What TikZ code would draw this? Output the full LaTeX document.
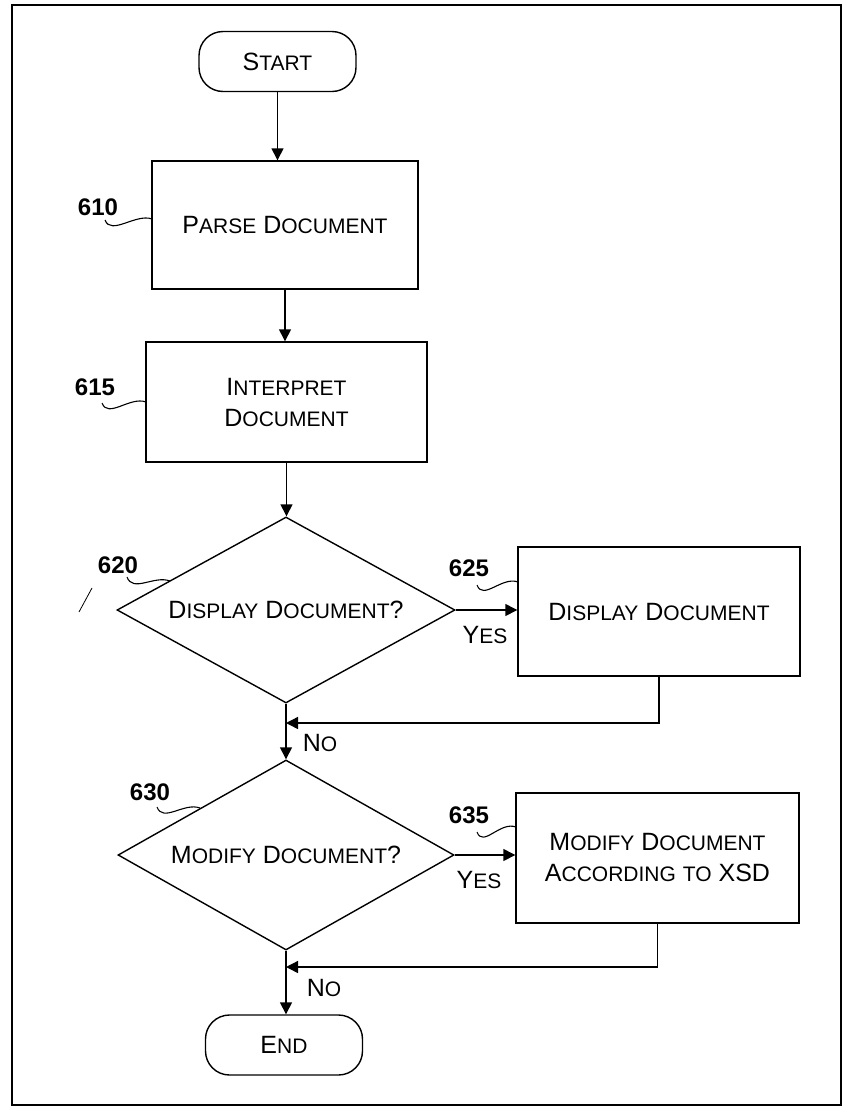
\documentclass[tikz,border=0pt]{standalone}
\usepackage{fontspec}
\setmainfont{Liberation Sans}
\usetikzlibrary{arrows.meta,shapes.geometric}
\newcommand\BigC{\fontsize{25}{31}\selectfont}
\newcommand\SmC{\fontsize{21}{31}\selectfont}
\newcommand\cw[2]{{\BigC #1}{\SmC #2}}
\begin{document}
\begin{tikzpicture}[x=1pt,y=-1pt,line width=1.4pt,
  box/.style={draw,rectangle,inner sep=0pt,align=center,font=\BigC},
  term/.style={draw,rectangle,rounded corners=24pt,inner sep=0pt,minimum width=157pt,minimum height=60pt,font=\BigC},
  dec/.style={draw,diamond,aspect=1.8,inner sep=0pt,font=\BigC},
  num/.style={font=\fontsize{24}{24}\selectfont\bfseries,inner sep=0pt},
  lbl/.style={font=\BigC,inner sep=0pt},
  arr/.style={-{Triangle[length=12pt,width=12pt]}},
  lead/.style={line width=1.1pt}]
\useasboundingbox (0,0) rectangle (843,1109);
\draw[line width=1.6pt] (12,5) rectangle (841,1105);

\node[term] (start) at (277.5,61.5) {\cw{S}{TART}};
\node[box,minimum width=266pt,minimum height=128pt] (n610) at (285,225) {\cw{P}{ARSE} \cw{D}{OCUMENT}};
\node[box,minimum width=281pt,minimum height=120pt] (n615) at (286.5,402) {\cw{I}{NTERPRET}\\\cw{D}{OCUMENT}};
\node[dec,minimum width=338pt,minimum height=186pt] (d620) at (286,610) {\cw{D}{ISPLAY} \cw{D}{OCUMENT}?};
\node[box,minimum width=282pt,minimum height=129pt] (n625) at (659,611.5) {\cw{D}{ISPLAY} \cw{D}{OCUMENT}};
\node[dec,minimum width=336pt,minimum height=190pt] (d630) at (286,855) {\cw{M}{ODIFY} \cw{D}{OCUMENT}?};
\node[box,minimum width=283pt,minimum height=130pt] (n635) at (657.5,858) {\cw{M}{ODIFY} \cw{D}{OCUMENT}\\\cw{A}{CCORDING} {\SmC TO} XSD};
\node[term] (end) at (284,1045) {\cw{E}{ND}};

\coordinate (j1) at (286,723);
\coordinate (j2) at (286,967);
\draw[arr] (start.south) -- (start.south |- n610.north);
\draw[arr] (n610.south) -- (n610.south |- n615.north);
\draw[arr] (n615.south) -- (n615.south |- d620.north);
\draw[arr] (d620.east) -- (d620.east -| n625.west);
\draw[arr] (n625.south) |- (j1);
\draw[arr] (d620.south) -- (d630.north);
\draw[arr] (d630.east) -- (d630.east -| n635.west);
\draw[arr] (n635.south) |- (j2);
\draw[arr] (d630.south) -- (d630.south |- end.north);

\node[lbl] (y1) at (485,635) {\cw{Y}{ES}};
\node[lbl] (no1) at (320,743) {\cw{N}{O}};
\node[lbl] (y2) at (479,880) {\cw{Y}{ES}};
\node[lbl] (no2) at (324,988) {\cw{N}{O}};

\node[num] (l610) at (98,207) {610};
\node[num] (l615) at (95,387) {615};
\node[num] (l620) at (118,565) {620};
\node[num] (l625) at (469,568) {625};
\node[num] (l630) at (150,792) {630};
\node[num] (l635) at (469,815) {635};

\draw[lead] (105,220) .. controls +(6,16) and +(-16,-6) .. (152,219);
\draw[lead] (102,403) .. controls +(6,16) and +(-16,-6) .. (146,402);
\draw[lead] (127,577) .. controls +(6,16) and +(-16,-6) .. (170,581);
\draw[lead] (477,585) .. controls +(6,16) and +(-16,-6) .. (518,582);
\draw[lead] (157,807) .. controls +(6,16) and +(-16,-6) .. (200,808);
\draw[lead] (477,832) .. controls +(6,16) and +(-16,-6) .. (516,827);

\draw[line width=0.8pt] (79,612) -- (92,588);
\end{tikzpicture}
\end{document}
